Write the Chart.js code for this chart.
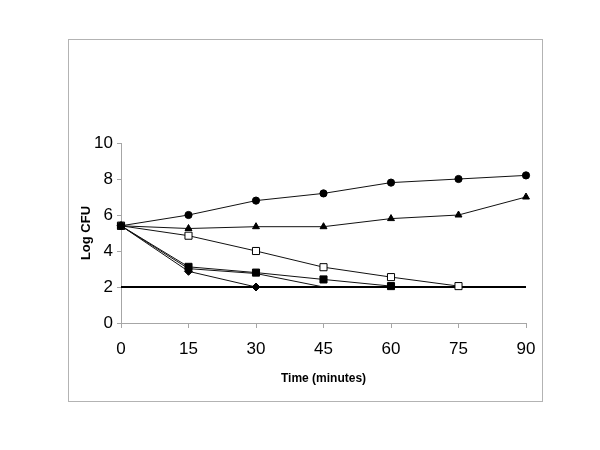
<!DOCTYPE html>
<html>
<head>
<meta charset="utf-8">
<script src="https://cdn.jsdelivr.net/npm/chart.js@4"></script>
<style>
  html, body { margin: 0; padding: 0; background: #fff; }
  #wrap { width: 600px; height: 450px; }
</style>
</head>
<body>
<div id="wrap"><canvas id="cfuChart" width="600" height="450"></canvas></div>
<script>
// time points (minutes)
const times = ["0", "15", "30", "45", "60", "75", "90"];

// log CFU per curve
const circleVals = [5.4, 6.0, 6.8, 7.2, 7.8, 8.0, 8.2];
const triangleVals = [5.4, 5.25, 5.35, 5.35, 5.8, 6.0, 7.0];
const openSquareVals = [5.4, 4.85, 4.0, 3.1, 2.55, 2.05, null];
const filledSquareVals = [5.4, 3.12, 2.8, 2.42, 2.05, null, null];
const hiddenVals = [5.4, 3.02, 2.75, 2.0, null, null, null];
const diamondVals = [5.4, 2.87, 2.0, null, null, null, null];
const limitVals = [2, 2, 2, 2, 2, 2, 2];

const yTicks = [0, 2, 4, 6, 8, 10];

const axisGray = "#a6a6a6";
const sans = "'Liberation Sans', Arial, sans-serif";
const narrow = "'Liberation Sans Narrow', 'Liberation Sans', Arial, sans-serif";

// grey frame around the whole chart + white background
const framePlugin = {
  id: "frame",
  beforeDraw(chart) {
    const ctx = chart.ctx;
    ctx.save();
    ctx.fillStyle = "#fff";
    ctx.fillRect(0, 0, chart.width, chart.height);
    ctx.strokeStyle = "#b3b3b3";
    ctx.lineWidth = 1;
    ctx.strokeRect(68.5, 39.5, 474, 362);
    ctx.restore();
  }
};

function series(data, style, radius, fill) {
  return {
    data,
    borderColor: "#111",
    borderWidth: 1,
    pointStyle: style,
    pointRadius: radius,
    pointBackgroundColor: fill,
    pointBorderColor: "#000",
    pointBorderWidth: 1,
    tension: 0,
    spanGaps: false
  };
}

new Chart(document.getElementById("cfuChart"), {
  type: "line",
  data: {
    labels: times,
    datasets: [
      series(circleVals, "circle", 3.6, "#000"),
      series(triangleVals, "triangle", 4, "#000"),
      series(openSquareVals, "rect", 5, "#fff"),
      series(filledSquareVals, "rect", 5, "#000"),
      series(diamondVals, "rectRot", 4, "#000"),
      series(hiddenVals, "circle", 0, "#000"),
      {
        data: limitVals,
        borderColor: "#000",
        borderWidth: 2,
        pointRadius: 0
      }
    ]
  },
  options: {
    responsive: false,
    animation: false,
    layout: { padding: { left: 68, right: 74, top: 143, bottom: 49 } },
    plugins: { legend: { display: false }, tooltip: { enabled: false } },
    scales: {
      x: {
        type: "category",
        offset: false,
        grid: { drawOnChartArea: false, tickLength: 5, color: axisGray },
        border: { color: axisGray },
        ticks: { color: "#000", font: { family: sans, size: 17 }, padding: 11, maxRotation: 0, autoSkip: false },
        title: { display: true, text: "Time (minutes)", color: "#000", font: { family: narrow, size: 12, weight: "bold" }, padding: { top: 0, bottom: 15 } },
        afterFit(scale) { scale.height = 78; }
      },
      y: {
        min: 0,
        max: 10,
        afterBuildTicks(scale) { scale.ticks = yTicks.map(v => ({ value: v })); },
        grid: { drawOnChartArea: false, tickLength: 4, color: axisGray },
        border: { color: axisGray },
        ticks: { color: "#000", font: { family: sans, size: 17 }, padding: 4 },
        title: { display: true, text: "Log CFU", color: "#000", font: { family: sans, size: 13, weight: "bold" }, padding: { top: 11, bottom: 0 } },
        afterFit(scale) { scale.width = 53; }
      }
    }
  },
  plugins: [framePlugin]
});
</script>
</body>
</html>
